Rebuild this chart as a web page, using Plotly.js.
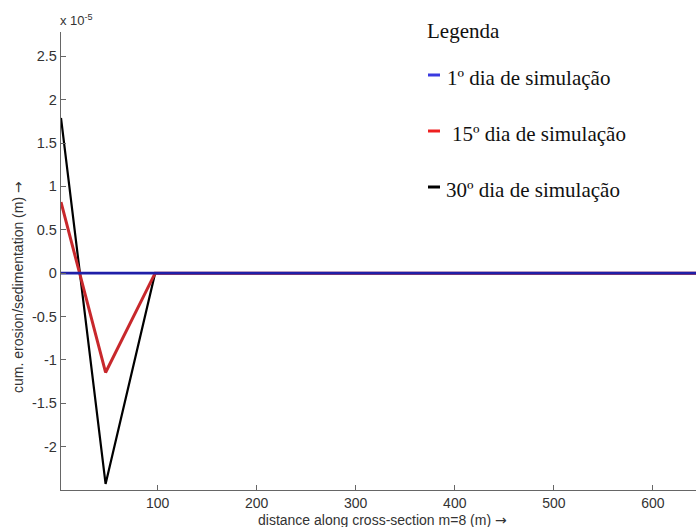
<!DOCTYPE html>
<html>
<head>
<meta charset="utf-8">
<script src="https://cdn.plot.ly/plotly-3.0.1.min.js"></script>
<style>html,body{margin:0;padding:0;background:#fff;}#chart{width:696px;height:527px;}</style>
</head>
<body>
<div id="chart"></div>
<script>
// distance along cross-section (m)
const xDist = [2.5, 47.5, 97.5, 650];
// cumulative erosion/sedimentation, in units of 1e-5 m
const day1 = [0, 0, 0, 0];
const day15 = [0.82, -1.145, 0, 0];
const day30 = [1.79, -2.43, 0, 0];
const seriesNames = ["1º dia de simulação", "15º dia de simulação", "30º dia de simulação"];
const xTicks = [100, 200, 300, 400, 500, 600];
const yTicks = [-2, -1.5, -1, -0.5, 0, 0.5, 1, 1.5, 2, 2.5];
const yTickText = ["-2", "-1.5", "-1", "-0.5", "0", "0.5", "1", "1.5", "2", "2.5"];

const traces = [
  {x: xDist, y: day30, mode: 'lines', line: {color: '#000000', width: 2.2}, name: seriesNames[2], showlegend: false},
  {x: xDist, y: day15, mode: 'lines', line: {color: '#c8282c', width: 3}, name: seriesNames[1], showlegend: false},
  {x: xDist, y: day1, mode: 'lines', line: {color: '#1f1fa8', width: 2.6}, name: seriesNames[0], showlegend: false}
];

const W = 696, H = 527, mL = 61, mR = 0, mT = 32, mB = 37;
const pw = W - mL - mR, ph = H - mT - mB;
const px = v => (v - mL) / pw;
const py = v => 1 - (v - mT) / ph;

const legendColors = ['#3a3ae0', '#ee2020', '#000000'];
const legendY = [75, 131, 187];
const textX = [447, 452, 446];
const shapes = legendColors.map((c, i) => ({
  type: 'line', xref: 'paper', yref: 'paper',
  x0: px(428), x1: px(440), y0: py(legendY[i]), y1: py(legendY[i]),
  line: {color: c, width: 3}
}));

const serif = {family: 'Liberation Serif, Times New Roman, serif', size: 21, color: '#111'};
const sans = 'Liberation Sans, Arial, sans-serif';
const annotations = [
  {xref: 'paper', yref: 'paper', x: px(425), y: py(31), xanchor: 'left', yanchor: 'middle', text: 'Legenda', showarrow: false, font: serif},
  ...seriesNames.map((n, i) => ({xref: 'paper', yref: 'paper', x: px(textX[i] - 2), y: py(legendY[i] + 3), xanchor: 'left', yanchor: 'middle', text: n, showarrow: false, font: serif})),
  {xref: 'paper', yref: 'paper', x: px(58), y: py(20), xanchor: 'left', yanchor: 'middle', text: 'x 10<sup>-5</sup>', showarrow: false, font: {family: sans, size: 13, color: '#333'}},
  {xref: 'paper', yref: 'paper', x: px(18), y: py(287), xanchor: 'center', yanchor: 'middle', textangle: -90, text: 'cum. erosion/sedimentation (m) <span style="font-family:DejaVu Sans">→</span>', showarrow: false, font: {family: sans, size: 14, color: '#333'}},
  {xref: 'paper', yref: 'paper', x: px(382), y: py(519.5), xanchor: 'center', yanchor: 'middle', text: 'distance along cross-section m=8 (m) <span style="font-family:DejaVu Sans">→</span>', showarrow: false, font: {family: sans, size: 14, color: '#333'}}
];

const layout = {
  width: W, height: H,
  margin: {l: mL, r: mR, t: mT, b: mB, pad: 0},
  paper_bgcolor: '#fff', plot_bgcolor: '#fff',
  showlegend: false,
  font: {family: sans, size: 14, color: '#333'},
  xaxis: {
    range: [2.5, 643.5], tickvals: xTicks, ticks: 'inside', ticklen: 5, tickcolor: '#666',
    showgrid: false, zeroline: false, showline: true, linecolor: '#666', linewidth: 1.2,
    tickfont: {size: 14, color: '#333'}
  },
  yaxis: {
    range: [-2.5, 2.78], tickvals: yTicks, ticktext: yTickText, ticks: 'inside', ticklen: 5, tickcolor: '#666',
    showgrid: false, zeroline: false, showline: true, linecolor: '#666', linewidth: 1.2,
    tickfont: {size: 14.5, color: '#333'}
  },
  shapes: shapes,
  annotations: annotations
};

Plotly.newPlot('chart', traces, layout, {displayModeBar: false, staticPlot: true});
</script>
</body>
</html>
